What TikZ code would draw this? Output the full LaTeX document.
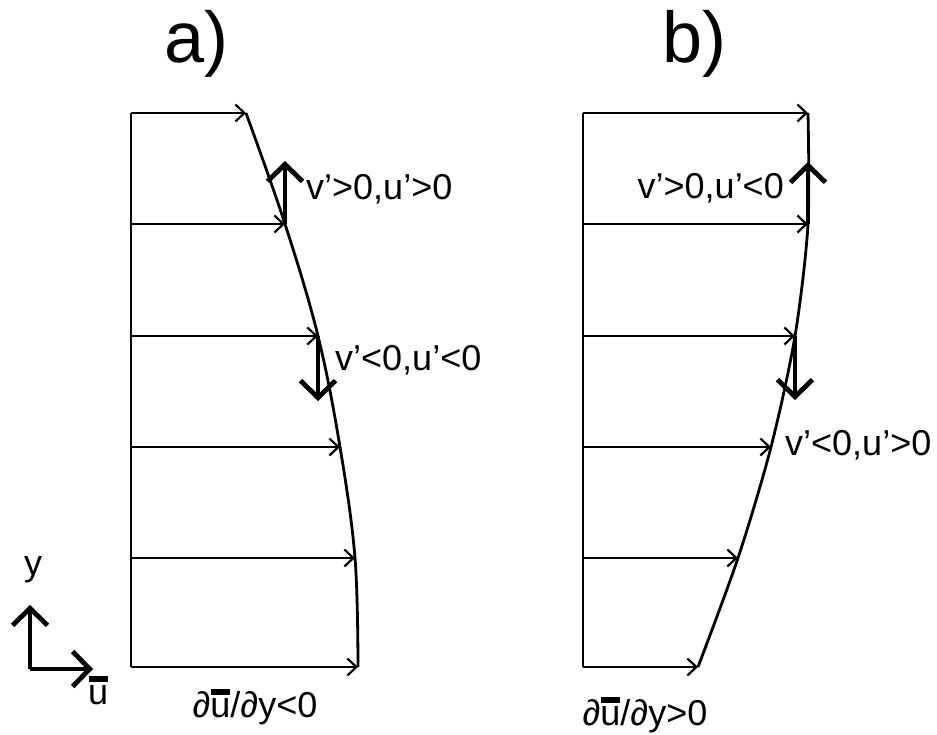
\documentclass[tikz,border=0pt]{standalone}
\usepackage{fontspec}
\setmainfont{Liberation Sans}
\usetikzlibrary{arrows.meta}
\newcommand\ubar{\makebox[0pt][l]{\hspace{0.02em}\rule[0.6em]{0.52em}{0.17em}}u}
\tikzset{
  thinarr/.style={line width=2.8pt,-{Straight Barb[length=9pt,width=17pt,line width=2.2pt]}},
  thickarr/.style={line width=4.8pt,-{Straight Barb[length=17pt,width=35pt,line width=4.8pt]}},
  profile/.style={line width=2.8pt},
  wall/.style={line width=2.8pt},
  lbl/.style={inner sep=0pt,font=\fontsize{36}{40}\selectfont},
  ttl/.style={inner sep=0pt,font=\fontsize{72}{80}\selectfont}
}
\begin{document}
\begin{tikzpicture}[x=1pt,y=-1pt]
\useasboundingbox (0,0) rectangle (937,735);
% panel a
\foreach \i/\y/\x in {1/113/246,2/224/285,3/336/318,4/447/340,5/558/355,6/667/358}{
  \coordinate (aL\i) at (131,\y);
  \coordinate (aP\i) at (\x,\y);
}
\draw[wall] (aL1) -- (aL6);
\foreach \i in {1,...,6}{\draw[thinarr] (aL\i) -- (aP\i);}
\draw[profile] plot[smooth,tension=0.6] coordinates {(aP1) (aP2) (aP3) (aP4) (aP5) (aP6)};
\coordinate (aUp) at (285,161);
\coordinate (aDn) at (318,401);
\draw[thickarr] (aP2) -- (aUp);
\draw[thickarr] (aP3) -- (aDn);
\node[lbl,anchor=base west] (la1) at (306,200) {v’>0,u’>0};
\node[lbl,anchor=base west] (la2) at (335,370) {v’<0,u’<0};
\node[ttl,anchor=base west] (ta) at (164,63) {a)};
\node[lbl,anchor=base] (da) at (255,717) {∂\ubar/∂y<0};
% panel b
\foreach \i/\y/\x in {1/113/808,2/224/808,3/336/795,4/447/771,5/558/738,6/667/698}{
  \coordinate (bL\i) at (583,\y);
  \coordinate (bP\i) at (\x,\y);
}
\draw[wall] (bL1) -- (bL6);
\foreach \i in {1,...,6}{\draw[thinarr] (bL\i) -- (bP\i);}
\draw[profile] plot[smooth,tension=0.5] coordinates {(bP1) (bP2) (bP3) (bP4) (bP5) (bP6)};
\coordinate (bUp) at (808,162);
\coordinate (bDn) at (795,400);
\draw[thickarr] (bP2) -- (bUp);
\draw[thickarr] (bP3) -- (bDn);
\node[lbl,anchor=base east] (lb1) at (784,199) {v’>0,u’<0};
\node[lbl,anchor=base west] (lb2) at (785,455) {v’<0,u’>0};
\node[ttl,anchor=base west] (tb) at (662,63) {b)};
\node[lbl,anchor=base] (db) at (645,725) {∂\ubar/∂y>0};
% axes
\coordinate (o) at (30,669);
\coordinate (yax) at (30,605);
\coordinate (xax) at (93,669);
\draw[thickarr] (o) -- (yax);
\draw[thickarr] (o) -- (xax);
\node[lbl,anchor=base] (ylab) at (33,575) {y};
\node[lbl,anchor=base west] (ulab) at (88,704) {\ubar};
\end{tikzpicture}
\end{document}
